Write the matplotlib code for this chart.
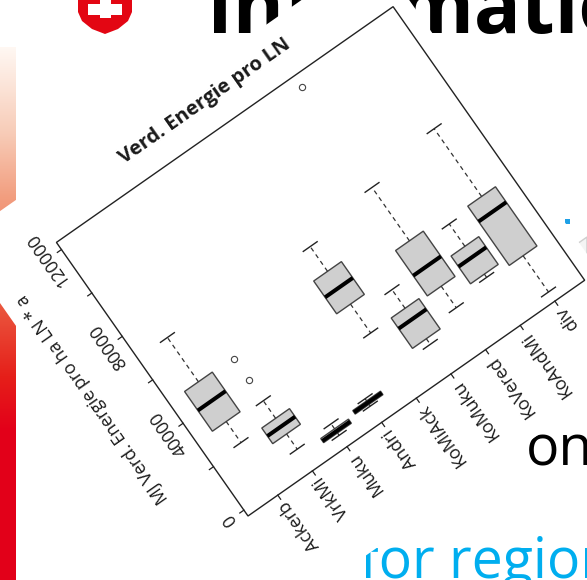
import numpy as np
import matplotlib
matplotlib.use('Agg')
import matplotlib.pyplot as plt
from matplotlib.transforms import Affine2D
from matplotlib.patches import Polygon, Rectangle
from matplotlib.colors import LinearSegmentedColormap

categories = ['Ackerb', 'VrkMi', 'Muku', 'Andri', 'KoMiAck', 'KoMuku', 'KoVered', 'KoAndMi', 'div']
whislo = [21500, 7300, 2500, 4800, 27300, 10900, 16600, 19400, 1500]
q1 = [31200, 14300, 3600, 5600, 40600, 13500, 26500, 20900, 18200]
med = [40750, 17800, 4400, 6400, 48200, 22600, 35800, 28800, 38400]
q3 = [49500, 21500, 5500, 7200, 55700, 27500, 47400, 33700, 45500]
whishi = [69900, 29600, 7800, 8200, 67100, 36100, 72000, 44000, 76700]
fliers = [[], [39000, 48900], [], [], [], [], [118300], [], []]

yticks = [0, 20000, 40000, 60000, 80000, 100000, 120000]
ytick_labels = ['0', '', '40000', '', '80000', '', '120000']
title = 'Verd. Energie pro LN'
ylabel = 'MJ Verd. Energie pro ha LN * a'

# geometry of the rotated plot region (pixels)
W, H = 411, 334
x0, y0 = 248, 516
ang = 35
xlo, xhi = 0.14, 9.86
ylo, yhi = -2700, 123300

plt.rcParams['font.family'] = ['Open Sans', 'DejaVu Sans']

fig = plt.figure(figsize=(5.87, 5.80), dpi=100)
ax = fig.add_axes([0, 0, 1, 1])

c, s = np.cos(np.radians(ang)), np.sin(np.radians(ang))
rot = Affine2D(np.array([[c, -s, x0], [-s, -c, y0], [0, 0, 1]]))
local = rot + ax.transData
data = Affine2D().translate(-xlo, -ylo).scale(W / (xhi - xlo), H / (yhi - ylo)) + local
dx = (xhi - xlo) / W
dy = (yhi - ylo) / H

# ---- slide in the background ----
cmap = LinearSegmentedColormap.from_list('bar', [
    (0.0, (1.0, 0.97, 0.95)), (0.16, (0.97, 0.80, 0.72)), (0.28, (0.95, 0.62, 0.50)),
    (0.48, (0.92, 0.35, 0.25)), (0.62, (0.90, 0.12, 0.10)), (0.72, (0.89, 0.0, 0.10)),
    (1.0, (0.89, 0.0, 0.10))])
grad = np.linspace(0, 1, 256).reshape(-1, 1)
ax.imshow(grad, cmap=cmap, extent=(0, 16, 580, 47), aspect='auto', zorder=1)

shield = Polygon([(78, -5), (132, -5), (132, 12), (128, 21), (118, 29), (105, 34),
                  (92, 29), (82, 21), (78, 12)], closed=True, fc='#e30613', ec='none', zorder=1)
ax.add_patch(shield)
ax.add_patch(Rectangle((99.5, -5), 11, 23, fc='white', ec='none', zorder=1))
ax.add_patch(Rectangle((88, 4), 34, 11, fc='white', ec='none', zorder=1))

ax.text(207, 33, 'Information', fontsize=56, fontweight='bold', color='black',
        va='baseline', ha='left', zorder=1)
ax.text(360, 578, 'for regions', fontsize=40, color='#00aeef', va='baseline', ha='left', zorder=1)
ax.text(526, 465, 'on', fontsize=40, color='black', va='baseline', ha='left', zorder=1)
ax.add_patch(Rectangle((565, 219), 5, 5, fc='#1ea0e6', ec='none', zorder=1))
ax.add_patch(Polygon([(577, 244), (587, 237), (587, 300), (582, 292)], closed=True,
                     fc='#f4f4f4', ec='#cfcfcf', lw=1, zorder=1))

# white background of the pasted screenshot
ax.add_patch(Polygon([(-81, -100), (428, -100), (428, 392), (-81, 392)], closed=True,
                     transform=local, fc='white', ec='none', zorder=2))

# ---- the boxplot ----
stats = []
for i, name in enumerate(categories):
    stats.append(dict(label=name, whislo=whislo[i], q1=q1[i], med=med[i], q3=q3[i],
                      whishi=whishi[i], fliers=fliers[i]))

bp = ax.bxp(stats, positions=range(1, len(categories) + 1), widths=0.8,
            patch_artist=True, manage_ticks=False,
            boxprops=dict(facecolor='#cfcfcf', edgecolor='#444444', linewidth=1.0),
            medianprops=dict(color='black', linewidth=2.9, solid_capstyle='butt'),
            whiskerprops=dict(color='#333333', linewidth=0.9, linestyle=(0, (3.5, 3))),
            capprops=dict(color='#222222', linewidth=1.0),
            flierprops=dict(marker='o', markersize=4.5, markerfacecolor='none',
                            markeredgecolor='#444444', markeredgewidth=0.8))
for key in bp:
    for art in bp[key]:
        art.set_transform(data)
        art.set_zorder(4)

# plot frame
ax.add_patch(Rectangle((0, 0), W, H, transform=local, fill=False, ec='#222222', lw=1.0, zorder=5))

tfs = 12.8
# x axis ticks and labels
for i, name in enumerate(categories):
    p = i + 1
    ax.plot([p, p], [ylo, ylo - 5 * dy], color='#222222', lw=0.9, transform=data, zorder=5)
    ax.text(p, ylo - 9 * dy, name, transform=data, rotation=90 + ang, rotation_mode='anchor',
            ha='right', va='center', fontsize=tfs, color='#1a1a1a', zorder=5)

# y axis ticks and labels
for v, lab in zip(yticks, ytick_labels):
    ax.plot([xlo, xlo - 5 * dx], [v, v], color='#222222', lw=0.9, transform=data, zorder=5)
    if lab:
        ax.text(xlo - 8 * dx, v, lab, transform=data, rotation=90 + ang, rotation_mode='anchor',
                ha='center', va='bottom', fontsize=tfs, color='#1a1a1a', zorder=5)

ax.text(W / 2 - 3, H + 30, title, transform=local, rotation=ang, rotation_mode='anchor',
        ha='center', va='center', fontsize=14.5, fontweight='bold', color='#1a1a1a', zorder=5)
ax.text(-60, 185, ylabel, transform=local, rotation=90 + ang, rotation_mode='anchor',
        ha='center', va='center', fontsize=12.8, color='#1a1a1a', zorder=5)

ax.set_xlim(0, 587)
ax.set_ylim(580, 0)
ax.axis('off')

fig.savefig('out.png', dpi=100)
